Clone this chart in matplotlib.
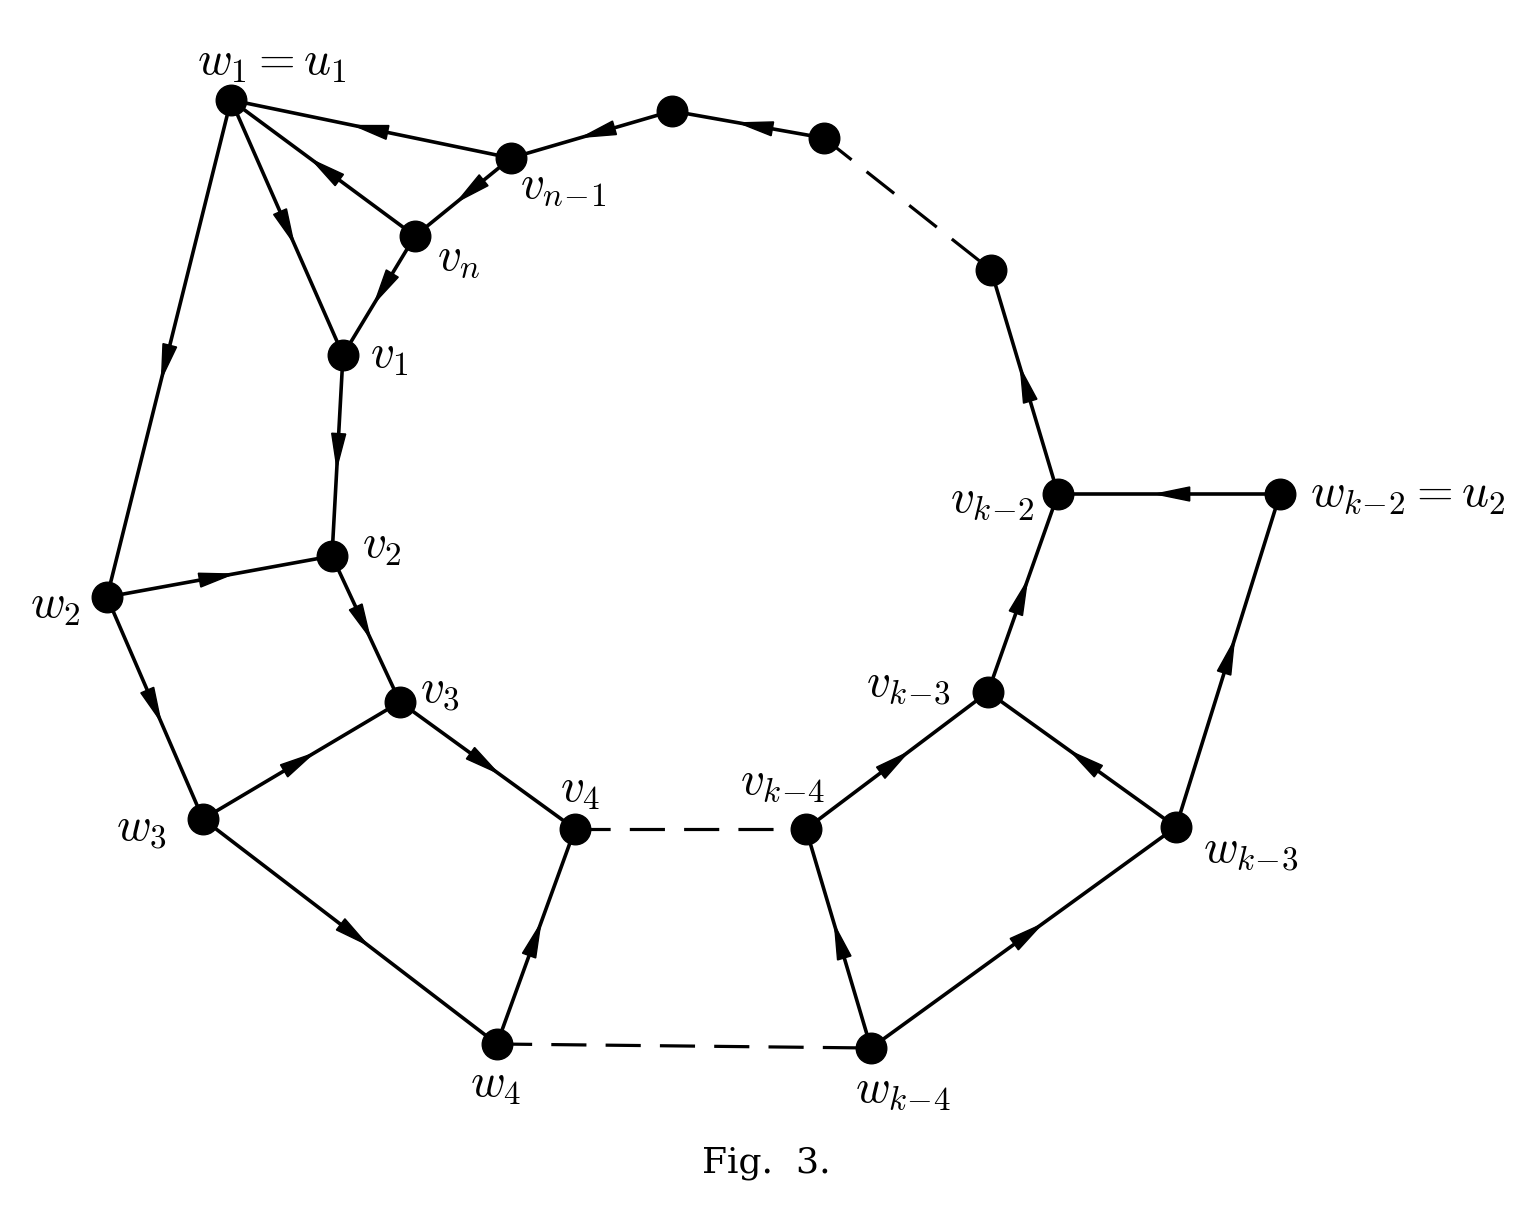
import numpy as np
import matplotlib
matplotlib.use('Agg')
import matplotlib.pyplot as plt
from matplotlib.patches import Polygon

plt.rcParams['mathtext.fontset'] = 'cm'

# node positions (picture pixels, y down)
node_names = ['w1', 'a', 'b', 'vn1', 'vn', 'c', 'v1', 'vk2', 'wk2', 'v2', 'w2',
              'vk3', 'v3', 'w3', 'wk3', 'v4', 'vk4', 'w4', 'wk4']
node_x = [231, 672, 824, 511, 415, 991, 343, 1058, 1280, 332, 107,
          988, 400, 203, 1176, 575, 806, 497, 871]
node_y = [100, 111, 138, 158, 236, 270, 355, 494, 494, 556, 597,
          692, 702, 819, 827, 829, 829, 1044, 1048]

# directed edges (from, to)
arcs = [('vn1', 'w1'), ('a', 'vn1'), ('b', 'a'), ('vk2', 'c'), ('wk2', 'vk2'),
        ('vn', 'w1'), ('vn1', 'vn'), ('vn', 'v1'), ('w1', 'v1'), ('w1', 'w2'),
        ('v1', 'v2'), ('w2', 'v2'), ('v2', 'v3'), ('w2', 'w3'), ('w3', 'v3'),
        ('v3', 'v4'), ('w3', 'w4'), ('w4', 'v4'), ('wk4', 'vk4'), ('vk4', 'vk3'),
        ('wk4', 'wk3'), ('wk3', 'vk3'), ('vk3', 'vk2'), ('wk3', 'wk2')]
dashed = [('b', 'c'), ('v4', 'vk4'), ('w4', 'wk4')]

label_text = [r'$w_1 = u_1$', r'$v_{n\!-\!1}$', r'$v_n$', r'$v_1$', r'$v_2$', r'$w_2$',
              r'$v_3$', r'$w_3$', r'$v_4$', r'$v_{k\!-\!4}$', r'$v_{k\!-\!3}$',
              r'$v_{k\!-\!2}$', r'$w_{k\!-\!2} = u_2$', r'$w_{k\!-\!3}$', r'$w_4$',
              r'$w_{k\!-\!4}$']
label_x = [197, 520, 437, 370, 362, 30, 420, 116, 560, 740, 866, 950,
           1310, 1203, 470, 855]
label_y = [62, 185, 258, 355, 545, 605, 690, 828, 790, 782, 683, 500,
           494, 850, 1085, 1090]

pos = {n: np.array([x, y], float) for n, x, y in zip(node_names, node_x, node_y)}

fig = plt.figure(figsize=(15.4, 12.2), dpi=100)
ax = fig.add_axes([0, 0, 1, 1])
ax.set_xlim(0, 1540)
ax.set_ylim(1220, 0)
ax.axis('off')

for s, t in arcs:
    p, q = pos[s], pos[t]
    ax.plot([p[0], q[0]], [p[1], q[1]], color='black', lw=2.6, zorder=1)
    d = (q - p) / np.linalg.norm(q - p)
    nrm = np.array([-d[1], d[0]])
    tip = p + 0.56 * (q - p)
    base = tip - 34 * d
    tri = [tip, base + 7 * nrm, base - 7 * nrm]
    ax.add_patch(Polygon(tri, closed=True, color='black', zorder=2))

for s, t in dashed:
    p, q = pos[s], pos[t]
    ax.plot([p[0], q[0]], [p[1], q[1]], color='black', lw=2.3,
            dashes=(11, 6), zorder=1)

ax.plot(node_x, node_y, 'o', color='black', markersize=22, zorder=3)

for txt, x, y in zip(label_text, label_x, label_y):
    ax.text(x, y, txt, fontsize=34, ha='left', va='center')

ax.text(766, 1163, 'Fig.  3.', fontsize=26, family='DejaVu Serif',
        ha='center', va='center')

fig.savefig('out.png', dpi=100)
